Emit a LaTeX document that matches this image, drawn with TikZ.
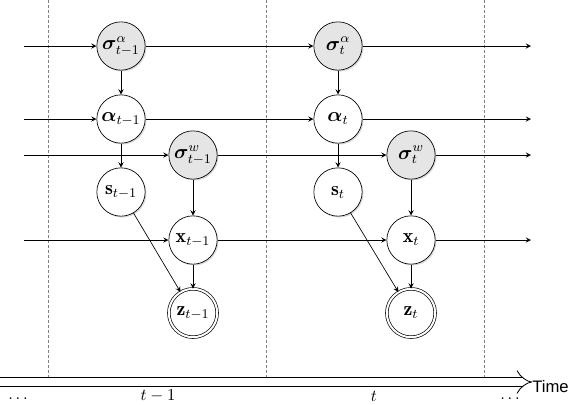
\documentclass[tikz,border=0pt]{standalone}
\usepackage{fontspec}
\usepackage{bm}
\usetikzlibrary{arrows.meta,shadows}
\newfontfamily\timefont{Liberation Sans}

\tikzset{
  var/.style={circle, draw, fill=white, minimum size=29pt, inner sep=0pt, font=\large,
    drop shadow={opacity=0.3, shadow xshift=0.8pt, shadow yshift=-0.8pt}},
  param/.style={var, fill=gray!20},
  obs/.style={var, double, double distance=1.2pt},
  link/.style={-stealth},
  slice/.style={gray, very thin, dash pattern=on 1.5pt off 1.5pt},
}

\begin{document}
\begin{tikzpicture}[x=0.6pt, y=-0.6pt]
\useasboundingbox (0,0) rectangle (568,404);
% time slices
\draw[slice] (48,0) -- (48,384);
\draw[slice] (266,0) -- (266,384);
\draw[slice] (484,0) -- (484,384);
% slice t-1
\node at (121,46) [param] (sigalphaprev) {$\bm{\sigma}^{\alpha}_{t-1}$};
\node at (121,119) [var] (alphaprev) {$\bm{\alpha}_{t-1}$};
\node at (193,155) [param] (sigwprev) {$\bm{\sigma}^{w}_{t-1}$};
\node at (121,192) [var] (sprev) {$\mathbf{s}_{t-1}$};
\node at (193,240) [var] (xprev) {$\mathbf{x}_{t-1}$};
\node at (193,313) [obs] (zprev) {$\mathbf{z}_{t-1}$};
% slice t
\node at (338,46) [param] (sigalpha) {$\bm{\sigma}^{\alpha}_{t}$};
\node at (338,119) [var] (alpha) {$\bm{\alpha}_{t}$};
\node at (411,155) [param] (sigw) {$\bm{\sigma}^{w}_{t}$};
\node at (338,192) [var] (s) {$\mathbf{s}_{t}$};
\node at (411,240) [var] (x) {$\mathbf{x}_{t}$};
\node at (411,313) [obs] (z) {$\mathbf{z}_{t}$};
% free ends
\coordinate (insigalpha) at (24,46);
\coordinate (inalpha) at (24,119);
\coordinate (insigw) at (24,155);
\coordinate (inx) at (24,240);
\coordinate (outsigalpha) at (531,46);
\coordinate (outalpha) at (531,119);
\coordinate (outsigw) at (531,155);
\coordinate (outx) at (531,240);
% transitions
\draw[link] (insigalpha) -- (sigalphaprev);
\draw[link] (sigalphaprev) -- (sigalpha);
\draw[link] (sigalpha) -- (outsigalpha);
\draw[link] (inalpha) -- (alphaprev);
\draw[link] (alphaprev) -- (alpha);
\draw[link] (alpha) -- (outalpha);
\draw[link] (insigw) -- (sigwprev);
\draw[link] (sigwprev) -- (sigw);
\draw[link] (sigw) -- (outsigw);
\draw[link] (inx) -- (xprev);
\draw[link] (xprev) -- (x);
\draw[link] (x) -- (outx);
% within a slice
\draw[link] (sigalphaprev) -- (alphaprev);
\draw[link] (alphaprev) -- (sprev);
\draw[link] (sigwprev) -- (xprev);
\draw[link] (xprev) -- (zprev);
\draw[link] (sprev) -- (zprev);
\draw[link] (sigalpha) -- (alpha);
\draw[link] (alpha) -- (s);
\draw[link] (sigw) -- (x);
\draw[link] (x) -- (z);
\draw[link] (s) -- (z);
% time axis
\coordinate (tstart) at (0,382);
\node at (532,387) [anchor=west, inner sep=0pt] (time) {\timefont Time};
\draw[double, double distance=4.6pt, line width=0.5pt, -{Implies[scale=1.6]}] (tstart) -- (tstart -| time.west);
\node at (18,399) (dotsl) {$\dots$};
\node at (158,396) (tprev) {$t-1$};
\node at (374,396) (tnow) {$t$};
\node at (510,399) (dotsr) {$\dots$};
\end{tikzpicture}
\end{document}
